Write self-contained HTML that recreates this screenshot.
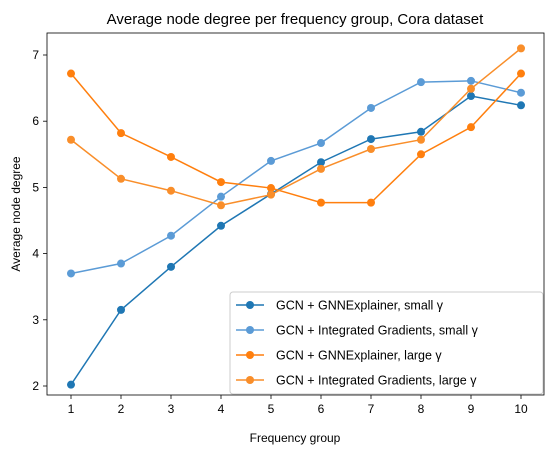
<!DOCTYPE html>
<html><head><meta charset="utf-8"><style>body{margin:0;background:#fff}svg{display:block;font-family:"Liberation Sans","DejaVu Sans",sans-serif}</style></head>
<body>
<svg id="chart" width="554" height="455" viewBox="0 0 554 455">
<text x="295" y="24" text-anchor="middle" font-size="15">Average node degree per frequency group, Cora dataset</text>
<rect x="47" y="33" width="497" height="362" fill="none" stroke="#000" stroke-width="0.8"/>
<g id="xt"></g><g id="yt"></g><g id="series"></g>
<text x="295" y="442" text-anchor="middle" font-size="12">Frequency group</text>
<text transform="translate(20,214) rotate(-90)" text-anchor="middle" font-size="12">Average node degree</text>
<g id="legend"><rect x="230" y="292" width="313" height="102" rx="3" fill="#fff" fill-opacity="0.8" stroke="#ccc"/></g>
</svg>
<script>
const categories=[1,2,3,4,5,6,7,8,9,10];
const xTicks=[1,2,3,4,5,6,7,8,9,10];
const yTicks=[2,3,4,5,6,7];
const gnnSmall=[2.02,3.15,3.80,4.42,4.90,5.38,5.73,5.84,6.38,6.24];
const igSmall=[3.70,3.85,4.27,4.86,5.40,5.67,6.20,6.59,6.61,6.43];
const gnnLarge=[6.72,5.82,5.46,5.08,4.99,4.77,4.77,5.50,5.91,6.72];
const igLarge=[5.72,5.13,4.95,4.73,4.89,5.28,5.58,5.72,6.49,7.10];
const seriesNames=["GCN + GNNExplainer, small γ","GCN + Integrated Gradients, small γ","GCN + GNNExplainer, large γ","GCN + Integrated Gradients, large γ"];
const ns="http://www.w3.org/2000/svg";
const X=v=>71+(v-1)*50, Y=v=>386-(v-2)*66.2;
function mk(t,a,p){const e=document.createElementNS(ns,t);for(const k in a)e.setAttribute(k,a[k]);p.appendChild(e);return e;}
const xt=document.getElementById('xt'),yt=document.getElementById('yt');
xTicks.forEach(v=>{mk('line',{x1:X(v),x2:X(v),y1:395,y2:399,stroke:'#000','stroke-width':0.8},xt);
const t=mk('text',{x:X(v),y:413,'text-anchor':'middle','font-size':12},xt);t.textContent=v;

});
yTicks.forEach(v=>{mk('line',{x1:43,x2:47,y1:Y(v),y2:Y(v),stroke:'#000','stroke-width':0.8},yt);
const t=mk('text',{x:39,y:Y(v)+4,'text-anchor':'end','font-size':12},yt);t.textContent=v;

});
const data=[gnnSmall,igSmall,gnnLarge,igLarge];
const colors=['#1f77b4','#5b9bd6','#ff7f0e','#f98e2a'];
const sg=document.getElementById('series'),lg=document.getElementById('legend');
data.forEach((d,i)=>{const g=mk('g',{},sg);


mk('polyline',{points:d.map((v,j)=>X(categories[j])+','+Y(v)).join(' '),fill:'none',stroke:colors[i],'stroke-width':1.5},g);
d.forEach((v,j)=>{const c=mk('circle',{cx:X(categories[j]),cy:Y(v),r:4,fill:colors[i]},g);

});
const ly=305+i*25;
mk('line',{x1:236,x2:264,y1:ly,y2:ly,stroke:colors[i],'stroke-width':1.5},lg);
mk('circle',{cx:250,cy:ly,r:4,fill:colors[i]},lg);
const t=mk('text',{x:276,y:ly+4.5,'font-size':12.5},lg);t.textContent=seriesNames[i];

});
</script>
</body></html>
